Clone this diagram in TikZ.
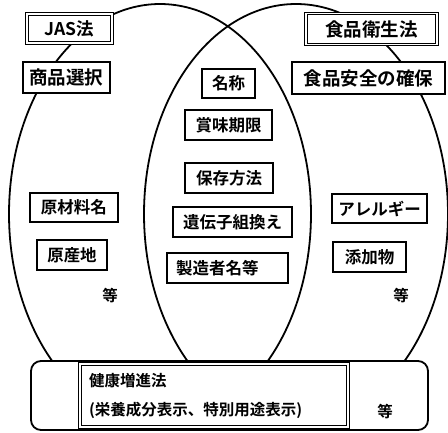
\documentclass[tikz,border=0pt]{standalone}
\usepackage{fontspec}
\setmainfont{Noto Sans CJK JP}[BoldFont={Noto Sans CJK JP Bold}]
\usetikzlibrary{positioning}

\begin{document}
\begin{tikzpicture}[
        x=1pt, y=-1pt,
        oval/.style={line width=1.8pt},
        box/.style={draw, rectangle, fill=white, line width=1.1pt, inner sep=0pt, minimum height=30pt, font=\fontsize{16.5}{19}\selectfont\bfseries},
        dbox/.style={draw, rectangle, fill=white, double, double distance=1.6pt, line width=0.8pt, inner sep=0pt, minimum height=30pt},
        big/.style={font=\fontsize{18.5}{21}\selectfont\bfseries},
        etc/.style={font=\fontsize{15.5}{18}\selectfont\bfseries}
    ]
        \useasboundingbox (0,0) rectangle (448,432);

        % Two overlapping ovals, cut off by the bottom frame
        \begin{scope}
            \clip (0,0) rectangle (448,361);
            \draw[oval] (160,214) ellipse [x radius=151, y radius=210];
            \draw[oval] (296,214) ellipse [x radius=152, y radius=210];
        \end{scope}

        % Left: JAS
        \node[dbox, minimum width=85pt, minimum height=29pt, font=\fontsize{17.5}{20}\selectfont\bfseries] (jas) at (69.5,28.5) {JAS法};
        \node[box, big, minimum width=87pt, minimum height=31pt] (select) at (66.5,77.5) {商品選択};
        \node[box, minimum width=88pt, minimum height=29pt] (material) at (74,207.5) {原材料名};
        \node[box, minimum width=70pt] (origin) at (72,255) {原産地};
        \node[etc] (etcL) at (110,296) {等};

        % Right: food sanitation
        \node[dbox, big, minimum width=131pt, minimum height=31pt] (hygiene) at (371.5,29) {食品衛生法};
        \node[box, big, minimum width=153pt, minimum height=32pt] (safety) at (368.5,78) {食品安全の確保};
        \node[box, minimum width=95pt, minimum height=29pt] (allergy) at (379.5,208.5) {アレルギー};
        \node[box, minimum width=73pt] (additive) at (369.5,257) {添加物};
        \node[etc] (etcR) at (401,296) {等};

        % Middle: common items
        \node[box, minimum width=53pt, minimum height=29pt] (name) at (228.5,83.5) {名称};
        \node[box, minimum width=87pt] (expiry) at (228.5,125) {賞味期限};
        \node[box, minimum width=88pt] (storage) at (229,178) {保存方法};
        \node[box, minimum width=119pt] (gmo) at (232.5,222) {遺伝子組換え};
        \node[box, inner xsep=9pt, text width=103pt, align=left] (maker) at (227.5,268) {製造者名等};

        % Bottom: health promotion
        \node[draw, fill=white, rounded corners=10pt, line width=1.8pt, minimum width=397pt, minimum height=69pt] (base) at (229.5,395.5) {};
        \node[dbox, inner xsep=9pt, text width=250pt, minimum height=63pt, align=left, font=\fontsize{15.5}{29}\selectfont\bfseries] (health) at (214,395.5) {健康増進法\\(栄養成分表示、特別用途表示)};
        \node[etc] (etcB) at (385,412) {等};
    \end{tikzpicture}
\end{document}
